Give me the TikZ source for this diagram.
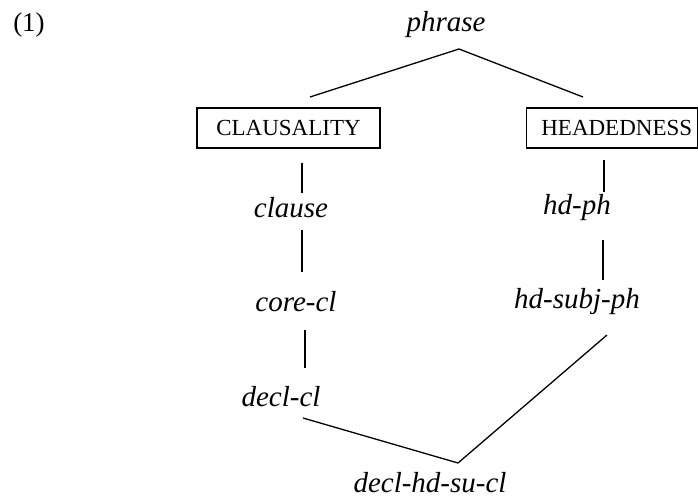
\documentclass[tikz,border=0pt]{standalone}
\usepackage{fontspec}
\setmainfont{Liberation Serif}
\begin{document}
\begin{tikzpicture}[x=1pt,y=-1pt,
  lbl/.style={font=\fontsize{29}{29}\selectfont\itshape, inner sep=0pt},
  typebox/.style={draw, line width=1.3pt, font=\fontsize{23}{23}\selectfont, inner sep=0pt, minimum height=40pt},
  conn/.style={line width=1.3pt}]
\useasboundingbox (0,0) rectangle (698,502);
\node[font=\fontsize{27}{27}\selectfont, inner sep=0pt] (num) at (29,25) {(1)};
\node[lbl] (phrase) at (446,25) {phrase};
\node[typebox, minimum width=183pt] (cla) at (288.5,128) {CLAUSALITY};
\node[typebox, minimum width=171pt] (hd) at (611.75,128) {\hspace*{10pt}HEADEDNESS};
\node[lbl] (clause) at (291,208) {clause};
\node[lbl] (core) at (296,302) {core-cl};
\node[lbl] (decl) at (281,397) {decl-cl};
\node[lbl] (hdph) at (577,208) {hd-ph};
\node[lbl] (hdsubj) at (577,302) {hd-subj-ph};
\node[lbl] (final) at (430,483) {decl-hd-su-cl};
% connectors
\draw[conn] ([shift={(21.5,-31)}]cla.center) -- ([shift={(13,24)}]phrase.center) -- ([shift={(-28.75,-31)}]hd.center);
\draw[conn] ([shift={(13.5,35)}]cla.center) -- ([shift={(11,-15)}]clause.center);
\draw[conn] ([shift={(11,22)}]clause.center) -- ([shift={(6,-30)}]core.center);
\draw[conn] ([shift={(9,28)}]core.center) -- ([shift={(24,-29)}]decl.center);
\draw[conn] ([shift={(22,21)}]decl.center) -- ([shift={(28,-20)}]final.center) -- ([shift={(30,33)}]hdsubj.center);
\draw[conn] ([shift={(-7.75,32)}]hd.center) -- ([shift={(27,-16)}]hdph.center);
\draw[conn] ([shift={(26,32)}]hdph.center) -- ([shift={(26,-22)}]hdsubj.center);
\end{tikzpicture}
\end{document}
